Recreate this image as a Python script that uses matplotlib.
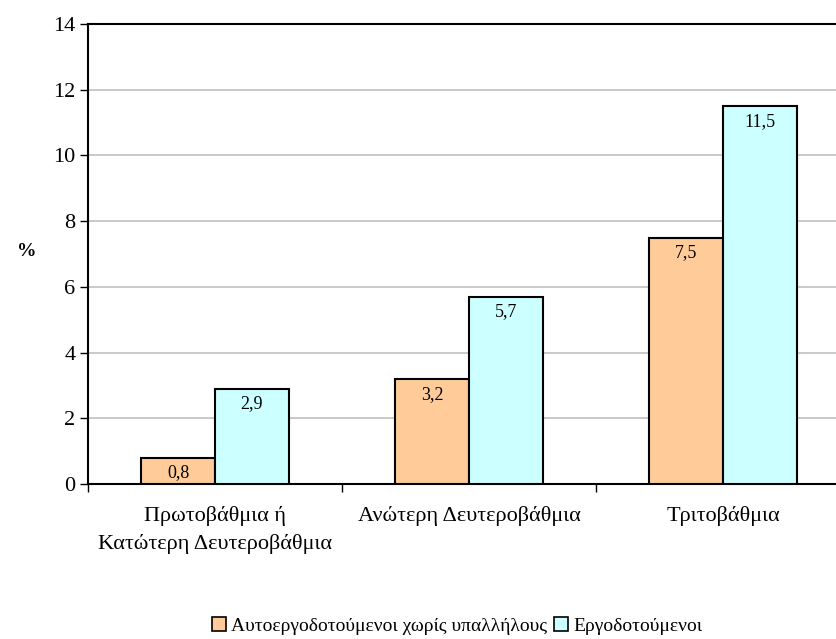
import matplotlib
matplotlib.use("Agg")
import matplotlib.pyplot as plt
import numpy as np
from matplotlib.patches import Patch

categories = ["Πρωτοβάθμια ή\nΚατώτερη Δευτεροβάθμια", "Ανώτερη Δευτεροβάθμια", "Τριτοβάθμια"]
series_names = ["Αυτοεργοδοτούμενοι χωρίς υπαλλήλους", "Εργοδοτούμενοι"]
self_employed = [0.8, 3.2, 7.5]
employers = [2.9, 5.7, 11.5]
value_labels_self = ["0,8", "3,2", "7,5"]
value_labels_emp = ["2,9", "5,7", "11,5"]
yticks = [0, 2, 4, 6, 8, 10, 12, 14]

plt.rcParams['font.family'] = ['Liberation Serif', 'DejaVu Serif']

W, H = 836, 639
fig = plt.figure(figsize=(W/100, H/100), dpi=100)
ax = fig.add_axes([88/W, (H-484)/H, (850-88)/W, (484-24)/H])

x = np.arange(len(categories))
bw = 0.29
c1, c2 = "#FFCC99", "#CCFFFF"
b1 = ax.bar(x - bw/2, self_employed, bw, color=c1, edgecolor="black", linewidth=1.5, zorder=3)
b2 = ax.bar(x + bw/2, employers, bw, color=c2, edgecolor="black", linewidth=1.5, zorder=3)

for rect, lab in zip(b1, value_labels_self):
    ax.annotate(lab, (rect.get_x() + rect.get_width()/2, rect.get_height()),
                xytext=(0, -11), textcoords="offset points", ha="center", va="center",
                fontsize=13, zorder=4)
for rect, lab in zip(b2, value_labels_emp):
    ax.annotate(lab, (rect.get_x() + rect.get_width()/2, rect.get_height()),
                xytext=(0, -11), textcoords="offset points", ha="center", va="center",
                fontsize=13, zorder=4)

ax.set_xlim(-0.5, 2.5)
ax.set_ylim(0, 14)
ax.set_yticks(yticks)
ax.set_yticklabels([str(v) for v in yticks], fontsize=16)
ax.yaxis.grid(True, color="#c0c0c0", linewidth=1.2, zorder=0)
ax.set_axisbelow(True)

ax.set_xticks(x)
ax.set_xticklabels(categories, fontsize=16, linespacing=1.55)
ax.tick_params(axis="x", which="major", length=0, pad=16)
ax.set_xticks(np.arange(-0.5, 3.0, 1.0), minor=True)
ax.tick_params(axis="x", which="minor", length=6, width=1, direction="out")
ax.tick_params(axis="y", length=6, width=1, direction="out", pad=3)

for s in ["left", "top", "bottom", "right"]:
    ax.spines[s].set_linewidth(1.5)
    ax.spines[s].set_color("black")

fig.text(17/W, 1 - 252/H, "%", fontsize=14, fontweight="bold", ha="left", va="center")

handles = [Patch(facecolor=c1, edgecolor="black", linewidth=1.2),
           Patch(facecolor=c2, edgecolor="black", linewidth=1.2)]
fig.legend(handles, series_names, loc="center", bbox_to_anchor=(457/W, 1 - 626/H),
           ncol=2, frameon=False, fontsize=14, handlelength=0.75, handleheight=0.75,
           handletextpad=0.25, columnspacing=0.35)

fig.savefig("out.png", dpi=100)
